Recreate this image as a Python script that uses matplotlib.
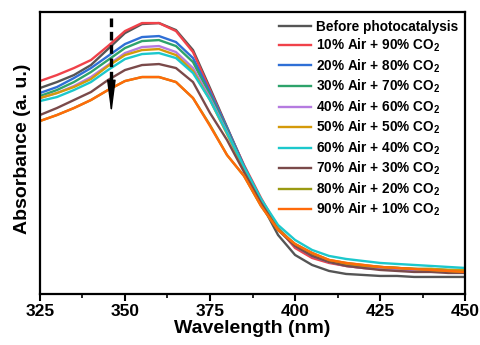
import numpy as np
import matplotlib
matplotlib.use("Agg")
import matplotlib.pyplot as plt
from matplotlib.ticker import MultipleLocator

plt.rcParams['font.family'] = ['Liberation Sans', 'DejaVu Sans']
plt.rcParams['font.weight'] = 'bold'
plt.rcParams['mathtext.fontset'] = 'custom'
plt.rcParams['mathtext.bf'] = 'Liberation Sans:bold'
plt.rcParams['mathtext.rm'] = 'Liberation Sans:bold'

wavelength = np.arange(325, 451, 5)

labels = ["Before photocatalysis",
          "10% Air + 90% CO$_\\mathbf{2}$",
          "20% Air + 80% CO$_\\mathbf{2}$",
          "30% Air + 70% CO$_\\mathbf{2}$",
          "40% Air + 60% CO$_\\mathbf{2}$",
          "50% Air + 50% CO$_\\mathbf{2}$",
          "60% Air + 40% CO$_\\mathbf{2}$",
          "70% Air + 30% CO$_\\mathbf{2}$",
          "80% Air + 20% CO$_\\mathbf{2}$",
          "90% Air + 10% CO$_\\mathbf{2}$"]
colors = ["#555555", "#f0424a", "#2f6fd6", "#2ea36b", "#b57be0",
          "#d49a0a", "#1cc8cc", "#7a4a4a", "#9a9a12", "#ff6a0a"]

# absorbance (arbitrary units) at 325, 330, ..., 450 nm
before = [2.06, 2.12, 2.19, 2.29, 2.45, 2.61, 2.70, 2.71, 2.64, 2.44, 2.06, 1.67,
          1.28, 0.91, 0.59, 0.39, 0.29, 0.23, 0.20, 0.19, 0.18, 0.18, 0.17, 0.17, 0.17, 0.17]
air10 = [2.13, 2.19, 2.26, 2.34, 2.48, 2.63, 2.71, 2.71, 2.63, 2.42, 2.04, 1.66,
         1.29, 0.96, 0.66, 0.46, 0.36, 0.31, 0.28, 0.26, 0.25, 0.24, 0.23, 0.23, 0.22, 0.22]
air20 = [2.01, 2.07, 2.16, 2.26, 2.38, 2.50, 2.57, 2.58, 2.52, 2.36, 2.02, 1.66,
         1.28, 0.94, 0.66, 0.48, 0.38, 0.32, 0.29, 0.27, 0.26, 0.25, 0.24, 0.24, 0.23, 0.23]
air30 = [1.98, 2.04, 2.12, 2.22, 2.34, 2.46, 2.53, 2.54, 2.48, 2.32, 1.99, 1.64,
         1.27, 0.94, 0.66, 0.49, 0.39, 0.33, 0.30, 0.28, 0.27, 0.26, 0.25, 0.25, 0.24, 0.24]
air40 = [1.96, 2.01, 2.08, 2.17, 2.29, 2.41, 2.47, 2.48, 2.42, 2.26, 1.96, 1.62,
         1.26, 0.93, 0.65, 0.48, 0.38, 0.32, 0.28, 0.26, 0.25, 0.24, 0.23, 0.23, 0.22, 0.22]
air50 = [1.96, 2.01, 2.07, 2.15, 2.28, 2.39, 2.44, 2.45, 2.39, 2.23, 1.94, 1.60,
         1.25, 0.93, 0.65, 0.49, 0.39, 0.33, 0.30, 0.28, 0.27, 0.26, 0.25, 0.25, 0.24, 0.24]
air60 = [1.93, 1.97, 2.04, 2.12, 2.24, 2.35, 2.40, 2.41, 2.36, 2.21, 1.94, 1.61,
         1.27, 0.95, 0.69, 0.54, 0.44, 0.38, 0.35, 0.33, 0.31, 0.30, 0.29, 0.28, 0.27, 0.26]
air70 = [1.79, 1.86, 1.94, 2.02, 2.14, 2.24, 2.29, 2.30, 2.26, 2.12, 1.81, 1.54,
         1.22, 0.91, 0.64, 0.48, 0.38, 0.32, 0.28, 0.26, 0.24, 0.23, 0.22, 0.22, 0.21, 0.21]
air80 = [1.73, 1.79, 1.86, 1.94, 2.04, 2.13, 2.17, 2.17, 2.12, 1.96, 1.69, 1.39,
         1.18, 0.88, 0.64, 0.50, 0.41, 0.34, 0.31, 0.29, 0.27, 0.26, 0.25, 0.24, 0.23, 0.22]
air90 = [1.73, 1.79, 1.86, 1.94, 2.04, 2.13, 2.17, 2.17, 2.12, 1.96, 1.68, 1.39,
         1.18, 0.88, 0.64, 0.50, 0.41, 0.34, 0.31, 0.29, 0.27, 0.26, 0.25, 0.24, 0.23, 0.22]

series = [before, air10, air20, air30, air40, air50, air60, air70, air80, air90]

arrow_x = 346
dash_top, dash_bottom = 2.76, 2.02
head_top, head_bottom = 2.06, 1.80

fig = plt.figure(figsize=(4.81, 3.45), dpi=100)
ax = fig.add_axes([0.083, 0.148, 0.884, 0.817])

for y, c, lab in zip(series, colors, labels):
    ax.plot(wavelength, y, color=c, lw=1.7, label=lab, solid_joinstyle='round')

# dashed shaft + solid narrow arrowhead
ax.plot([arrow_x, arrow_x], [dash_top, dash_bottom], color='black', lw=2.4,
        linestyle=(0, (2.6, 1.4)), solid_capstyle='butt')
ax.annotate("", xy=(arrow_x, head_bottom), xytext=(arrow_x, head_top),
            arrowprops=dict(arrowstyle="-|>,head_length=1.7,head_width=0.22",
                            color="black", lw=1.0, mutation_scale=12,
                            shrinkA=0, shrinkB=0))

ax.set_xlim(325, 450)
ax.set_ylim(0, 2.82)
ax.xaxis.set_major_locator(MultipleLocator(25))
ax.xaxis.set_minor_locator(MultipleLocator(12.5))
ax.set_yticks([])
ax.tick_params(axis='x', which='major', direction='out', length=5, width=1.5,
               labelsize=12.5, pad=2)
ax.tick_params(axis='x', which='minor', direction='out', length=3, width=1.2)
for lbl in ax.get_xticklabels():
    lbl.set_fontweight('bold')
for s in ax.spines.values():
    s.set_linewidth(1.6)

ax.set_xlabel("Wavelength (nm)", fontsize=14, fontweight='bold', labelpad=1)
ax.set_ylabel("Absorbance (a. u.)", fontsize=14, fontweight='bold')
ax.yaxis.set_label_coords(-0.02, 0.516)

leg = ax.legend(loc='upper right', frameon=False, handlelength=2.35,
                labelspacing=0.23, handletextpad=0.3, borderaxespad=0.15,
                prop={'weight': 'bold', 'size': 9.8})

fig.savefig("out.png", dpi=100)
